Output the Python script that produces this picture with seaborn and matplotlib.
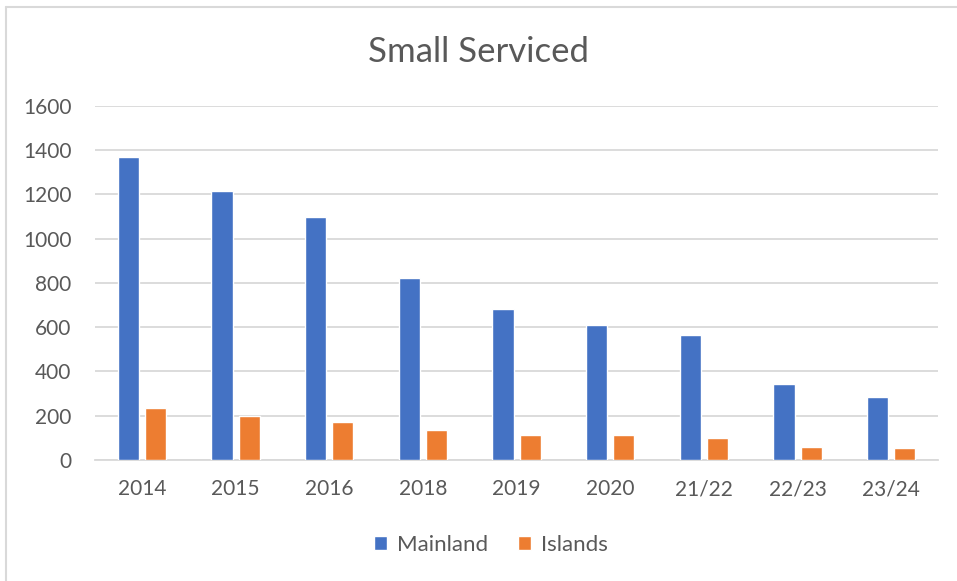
import matplotlib
matplotlib.use("Agg")
import matplotlib.pyplot as plt
import seaborn as sns
import pandas as pd
from matplotlib.lines import Line2D

# data
years = ["2014", "2015", "2016", "2018", "2019", "2020", "21/22", "22/23", "23/24"]
mainland = [1370, 1216, 1098, 823, 683, 610, 565, 344, 284]
islands = [237, 201, 172, 134, 115, 112, 98, 59, 54]
series_names = ["Mainland", "Islands"]
colours = ["#4472C4", "#ED7D31"]

df = pd.DataFrame({
    "year": years * 2,
    "value": mainland + islands,
    "series": [series_names[0]] * len(years) + [series_names[1]] * len(years),
})

sns.set_style("white")
plt.rcParams["font.family"] = ["Lato", "DejaVu Sans"]
text_col = "#595959"
grid_col = "#D9D9D9"

fig = plt.figure(figsize=(9.57, 5.81), dpi=100)
ax = fig.add_axes([0.0993, 0.2083, 0.8809, 0.6093])

sns.barplot(data=df, x="year", y="value", hue="series", order=years,
            hue_order=series_names, palette=colours, saturation=1,
            width=0.58, gap=0.22, ax=ax, legend=True, zorder=3)

ax.set_ylim(0, 1600)
ax.set_xlim(-0.5, len(years) - 0.5)
ax.set_yticks(range(0, 1601, 200))
ax.yaxis.grid(True, color=grid_col, linewidth=1.3, zorder=0)
ax.set_axisbelow(True)
for s in ["top", "right", "left"]:
    ax.spines[s].set_visible(False)
ax.spines["bottom"].set_color(grid_col)
ax.spines["bottom"].set_linewidth(1.3)
ax.tick_params(axis="both", length=0, labelsize=15, colors=text_col)
ax.tick_params(axis="x", pad=14)
ax.tick_params(axis="y", pad=17)
ax.set_xlabel("")
ax.set_ylabel("")

fig.text(0.5, 0.911, "Small Serviced", ha="center", va="center",
         fontsize=25, color=text_col)

handles, labels = ax.get_legend_handles_labels()
ax.get_legend().remove()
fig.legend(handles, labels, loc="center", bbox_to_anchor=(0.513, 0.062), ncol=2,
           frameon=False, fontsize=16, labelcolor=text_col, handlelength=0.6,
           handleheight=0.6, handletextpad=0.45, columnspacing=1.3)

# chart border (only top and left edges visible in the screenshot)
fig.add_artist(Line2D([6 / 957, 1], [1 - 7 / 581, 1 - 7 / 581],
                      transform=fig.transFigure, color="#D9D9D9", linewidth=1.5))
fig.add_artist(Line2D([6 / 957, 6 / 957], [0, 1 - 7 / 581],
                      transform=fig.transFigure, color="#D9D9D9", linewidth=1.5))

fig.savefig("out.png", dpi=100)
